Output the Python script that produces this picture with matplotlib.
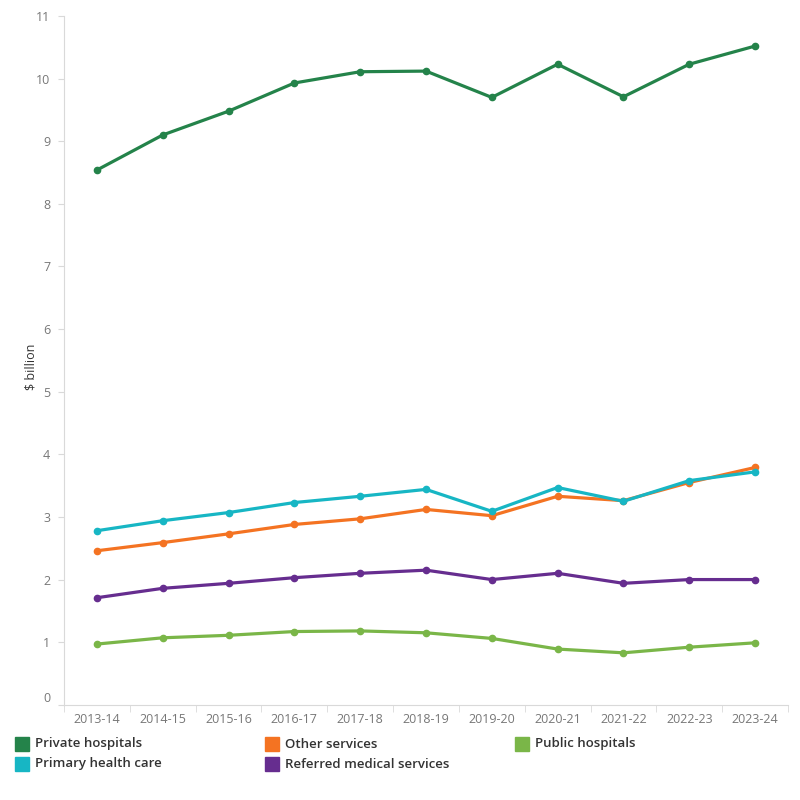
import matplotlib.pyplot as plt
from matplotlib.patches import Rectangle

plt.rcParams['font.family'] = ['Open Sans', 'DejaVu Sans']

years = ["2013-14", "2014-15", "2015-16", "2016-17", "2017-18", "2018-19",
         "2019-20", "2020-21", "2021-22", "2022-23", "2023-24"]

private_hospitals = [8.54, 9.10, 9.48, 9.93, 10.11, 10.12, 9.70, 10.23, 9.71, 10.23, 10.52]
primary_health_care = [2.78, 2.94, 3.07, 3.23, 3.33, 3.44, 3.09, 3.47, 3.25, 3.58, 3.72]
other_services = [2.46, 2.59, 2.73, 2.88, 2.97, 3.12, 3.02, 3.33, 3.26, 3.55, 3.79]
referred_medical = [1.71, 1.86, 1.94, 2.03, 2.10, 2.15, 2.00, 2.10, 1.94, 2.00, 2.00]
public_hospitals = [0.97, 1.07, 1.11, 1.17, 1.18, 1.15, 1.06, 0.89, 0.83, 0.92, 0.99]

series = [
    ("Private hospitals", private_hospitals, "#24834a"),
    ("Primary health care", primary_health_care, "#17b6c4"),
    ("Other services", other_services, "#f47322"),
    ("Referred medical services", referred_medical, "#662d8f"),
    ("Public hospitals", public_hospitals, "#7ab648"),
]

fig = plt.figure(figsize=(8, 8), dpi=100)
ax = fig.add_axes([0.08, 0.119, 0.905, 0.861])

x = list(range(len(years)))
# draw back to front so that private hospitals sits on top like the original
for name, vals, col in [series[4], series[3], series[2], series[1], series[0]]:
    ax.plot(x, vals, "-o", color=col, lw=2.3, ms=4.5, solid_capstyle="round")

ax.set_xlim(-0.5, len(years) - 0.5)
ax.set_ylim(0, 11)
ax.set_yticks(range(0, 12))
ax.set_xticks(x)
ax.set_xticklabels(years)
ax.set_xticks([i - 0.5 for i in range(len(years) + 1)], minor=True)

for s in ["top", "right"]:
    ax.spines[s].set_visible(False)
ax.spines["left"].set_color("#d9d9d9")
ax.spines["bottom"].set_color("#d9d9d9")
ax.tick_params(axis="x", which="major", length=0, pad=6, labelsize=9, labelcolor="#777777")
ax.tick_params(axis="x", which="minor", length=5, color="#d9d9d9")
ax.tick_params(axis="y", length=4, color="#d9d9d9", labelsize=9, labelcolor="#777777", pad=6)
ax.get_yticklabels()[0].set_va("bottom")

ax.set_ylabel("$ billion", fontsize=9, color="#333333")
ax.yaxis.set_label_coords(-0.037, 0.49)

# legend laid out in a fixed three column grid
positions = {
    "Private hospitals": (0, 0),
    "Other services": (1, 0),
    "Public hospitals": (2, 0),
    "Primary health care": (0, 1),
    "Referred medical services": (1, 1),
}
for name, vals, col in series:
    c, r = positions[name]
    x0 = 15 + c * 250
    y0 = 744 + r * 20
    fig.patches.append(Rectangle((x0 / 800, 1 - (y0 + 7) / 800), 14 / 800, 14 / 800,
                                 transform=fig.transFigure, color=col))
    fig.text((x0 + 20) / 800, 1 - y0 / 800, name, fontsize=9.5, color="#333333",
             va="center", ha="left", fontweight="semibold")

fig.savefig("out.png", dpi=100)
